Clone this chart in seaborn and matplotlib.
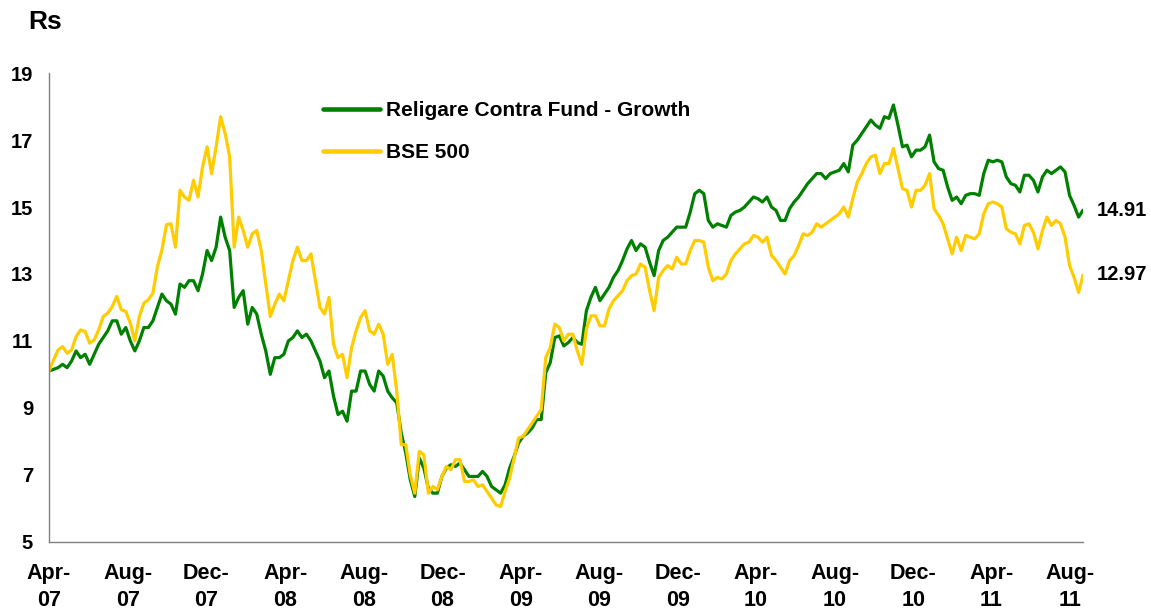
import pandas as pd
import numpy as np
import matplotlib
matplotlib.use("Agg")
import matplotlib.pyplot as plt
import matplotlib.dates as mdates
import seaborn as sns

# weekly NAV values (Rs), starting 1 Apr 2007
start_date = '2007-04-01'

fund = [10.1, 10.15, 10.2, 10.3, 10.2, 10.4, 10.7, 10.5, 10.6, 10.3,
        10.6, 10.9, 11.1, 11.3, 11.6, 11.6, 11.2, 11.4, 11.0, 10.7,
        11.0, 11.4, 11.4, 11.6, 12.0, 12.4, 12.2, 12.1, 11.8, 12.7,
        12.6, 12.8, 12.8, 12.5, 13.0, 13.7, 13.4, 13.8, 14.7, 14.1,
        13.7, 12.0, 12.3, 12.5, 11.5, 12.0, 11.8, 11.2, 10.7, 10.0,
        10.5, 10.5, 10.6, 11.0, 11.1, 11.3,
        11.1, 11.2, 11.0, 10.7, 10.4, 9.9, 10.1, 9.35, 8.8, 8.9,
        8.6, 9.5, 9.5, 10.1, 10.1, 9.7, 9.5, 10.1, 9.95, 9.5,
        9.3, 9.15, 8.25, 7.65, 6.85, 6.35, 7.5, 7.2, 6.6, 6.45,
        6.45, 6.95, 7.2, 7.3, 7.25, 7.35, 7.15, 6.95, 6.95, 6.95,
        7.1, 6.95, 6.65, 6.55, 6.45, 6.7, 7.2, 7.55, 7.95, 8.15,
        8.25, 8.4, 8.65, 8.65, 10.05, 10.35, 11.1, 11.15, 10.85, 10.95, 11.1, 10.95,
        10.9, 11.9, 12.3, 12.6, 12.2, 12.4, 12.6, 12.9, 13.1, 13.4,
        13.75, 14.0, 13.7, 13.9, 13.8, 13.35, 12.95, 13.7, 14.0, 14.1,
        14.25, 14.4, 14.4, 14.4, 14.85, 15.4, 15.5, 15.4, 14.6, 14.4,
        14.5, 14.45, 14.4, 14.75, 14.85, 14.9, 15.0, 15.15, 15.3, 15.25,
        15.15, 15.3, 15.0, 14.9, 14.6, 14.6, 14.95, 15.15, 15.3, 15.5,
        15.7, 15.85, 16.0, 16.0, 15.85, 16.0, 16.05, 16.1, 16.3, 16.05, 16.85, 17.0,
        17.2, 17.4, 17.6, 17.45, 17.35, 17.7, 17.65, 18.05, 17.45, 16.8,
        16.85, 16.5, 16.7, 16.7, 16.8, 17.15, 16.35, 16.15, 16.1, 15.6,
        15.2, 15.3, 15.1, 15.35, 15.4, 15.4, 15.35, 16.0, 16.4, 16.35,
        16.4, 16.35, 15.9, 15.7, 15.65, 15.45, 15.95, 15.95, 15.8, 15.45,
        15.9, 16.1, 16.0, 16.1, 16.2, 16.05, 15.35, 15.05, 14.7, 14.91]

bse500 = [10.1, 10.43, 10.73, 10.83, 10.63, 10.73, 11.13, 11.33, 11.28, 10.93,
          11.03, 11.33, 11.73, 11.83, 12.03, 12.33, 11.93, 11.88, 11.53, 11.0,
          11.73, 12.13, 12.23, 12.43, 13.22, 13.72, 14.47, 14.5, 13.8, 15.5,
          15.3, 15.2, 15.8, 15.3, 16.2, 16.8, 16.0, 16.8, 17.7, 17.2,
          16.5, 13.8, 14.7, 14.3, 13.8, 14.2, 14.3, 13.7, 12.7, 11.73,
          12.1, 12.4, 12.2, 12.8, 13.4, 13.8,
          13.4, 13.4, 13.6, 12.8, 12.0, 11.8, 12.3, 10.9, 10.5, 10.6,
          9.9, 10.8, 11.3, 11.7, 11.9, 11.3, 11.2, 11.5, 11.2, 10.3,
          10.6, 9.5, 7.9, 7.9, 7.0, 6.45, 7.7, 7.6, 6.45, 6.65,
          6.55, 6.95, 7.25, 7.15, 7.45, 7.45, 6.8, 6.8, 6.85, 6.65,
          6.7, 6.5, 6.3, 6.1, 6.05, 6.5, 6.9, 7.5, 8.1, 8.15,
          8.35, 8.55, 8.75, 8.95, 10.5, 10.8, 11.5, 11.4, 11.0, 11.2, 11.2, 10.7,
          10.3, 11.35, 11.75, 11.75, 11.45, 11.45, 11.95, 12.2, 12.35, 12.5,
          12.8, 12.95, 13.0, 13.3, 13.2, 12.5, 11.9, 12.9, 13.1, 13.25,
          13.15, 13.5, 13.3, 13.3, 13.7, 14.0, 14.0, 13.95, 13.2, 12.8,
          12.9, 12.85, 13.0, 13.4, 13.6, 13.75, 13.9, 13.95, 14.15, 14.1,
          13.95, 14.1, 13.55, 13.4, 13.2, 13.0, 13.4, 13.55, 13.85, 14.2,
          14.15, 14.25, 14.5, 14.4, 14.5, 14.6, 14.7, 14.8, 15.0, 14.7, 15.25, 15.75,
          16.0, 16.3, 16.5, 16.55, 16.0, 16.3, 16.3, 16.75, 16.15, 15.55,
          15.5, 15.0, 15.5, 15.5, 15.65, 16.0, 14.95, 14.75, 14.5, 14.05,
          13.6, 14.1, 13.7, 14.15, 14.1, 14.05, 14.2, 14.8, 15.1, 15.15,
          15.1, 15.0, 14.35, 14.25, 14.2, 13.9, 14.45, 14.5, 14.25, 13.75,
          14.3, 14.7, 14.45, 14.6, 14.5, 14.1, 13.25, 12.9, 12.45, 12.97]

series_names = ['Religare Contra Fund - Growth', 'BSE 500']
colors = ['#008000', '#FFCC00']

dates = pd.date_range(start_date, periods=len(fund), freq='7D')
df = pd.DataFrame({'date': dates, series_names[0]: fund, series_names[1]: bse500})
long_df = df.melt(id_vars='date', var_name='series', value_name='nav')

sns.set_style('white')
plt.rcParams['font.family'] = ['Liberation Sans', 'DejaVu Sans']
plt.rcParams['font.weight'] = 'bold'
plt.rcParams['text.color'] = 'black'
plt.rcParams['xtick.labelcolor'] = 'black'
plt.rcParams['ytick.labelcolor'] = 'black'

fig = plt.figure(figsize=(11.51, 6.10), dpi=100)
ax = fig.add_axes([0.0426, 0.112, 0.8984, 0.768])

sns.lineplot(data=long_df, x='date', y='nav', hue='series', hue_order=series_names,
             palette=colors, linewidth=2.3, ax=ax)

ax.set_xlim(pd.Timestamp('2007-04-01'), dates[-1])
ax.set_ylim(5, 19)
ax.set_yticks(np.arange(5, 20, 2))
ax.set_xticks(pd.date_range('2007-04-01', '2011-08-01', freq='4MS'))
ax.xaxis.set_major_formatter(mdates.DateFormatter('%b-\n%y'))
ax.set_xlabel('')
ax.set_ylabel('')

for sp in ['top', 'right']:
    ax.spines[sp].set_visible(False)
for sp in ['left', 'bottom']:
    ax.spines[sp].set_color('#808080')
    ax.spines[sp].set_linewidth(1.0)

ax.tick_params(axis='both', direction='out', width=1, color='#808080')
ax.tick_params(axis='y', labelsize=14.5, length=6.5, pad=5)
ax.tick_params(axis='x', labelsize=15.5, length=3.6, pad=12)
for lab in ax.get_xticklabels():
    lab.set_linespacing(1.35)
    lab.set_fontweight('bold')
for lab in ax.get_yticklabels():
    lab.set_fontweight('bold')

# end-of-series labels
for vals in [fund, bse500]:
    ax.annotate(f'{vals[-1]:.2f}', xy=(dates[-1], vals[-1]), xytext=(9.5, 0),
                textcoords='offset points', va='center', ha='left',
                fontsize=14.5, fontweight='bold', annotation_clip=False)

leg = ax.legend(loc='upper left', bbox_to_anchor=(0.2466, 0.98), frameon=False,
                fontsize=15, handlelength=2.74, handletextpad=0.3, labelspacing=1.1)
for line in leg.get_lines():
    line.set_linewidth(3.3)
for t in leg.get_texts():
    t.set_fontweight('bold')

fig.text(0.0243, 0.964, 'Rs', fontsize=19, fontweight='bold', va='center', ha='left')

fig.savefig('out.png', dpi=100, facecolor='white')
